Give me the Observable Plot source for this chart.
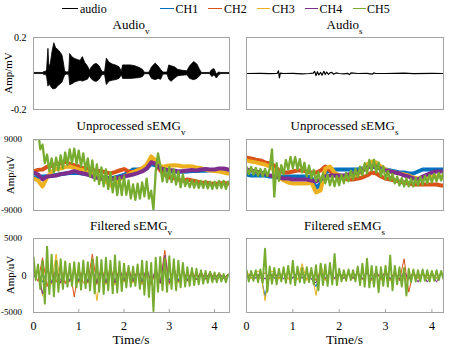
<!DOCTYPE html>
<html><head><meta charset="utf-8">
<script src="https://cdn.jsdelivr.net/npm/d3@7"></script>
<script src="https://cdn.jsdelivr.net/npm/@observablehq/plot@0.6"></script>
<style>
body{margin:0;background:#fff;}
#fig{position:relative;width:457px;height:347px;font-family:"Liberation Serif","Tinos","Times New Roman","DejaVu Serif",serif;color:#000;overflow:hidden;background:#fff;}
.abs{position:absolute;white-space:nowrap;}
.title{font-size:13px;line-height:13px;transform:translateX(-50%);}
.title sub{font-size:9px;vertical-align:-5px;line-height:0;}
.ylab{font-size:11px;line-height:11px;transform:translate(-50%,-50%) rotate(-90deg);}
.xlab{font-size:13.5px;line-height:10px;transform:translateX(-50%);}
.leg{font-size:12px;line-height:12px;}
.legline{position:absolute;height:0;border-top:1.2px solid;}
</style></head><body><div id="fig"></div>
<script>
// ---------- categories / colours ----------
const channels = ["CH1","CH2","CH3","CH4","CH5"];
const chColors = ["#0072BD","#D95319","#EDB120","#7E2F8E","#77AC30"];
const panelTitles = [["Audio","v"],["Audio","s"],["Unprocessed sEMG","v"],["Unprocessed sEMG","s"],["Filtered sEMG","v"],["Filtered sEMG","s"]];
const yLabels = ["Amp/mV","Amp/uV","Amp/uV"];
const xLabel = "Time/s";
const xTicks = [0,1,2,3,4];
const yTicksAudio = [0.2,-0.2];
const yTicksRaw = [9000,-9000];
const yTicksFilt = [5000,-5000];
const yTickZero = [0];

// ---------- audio (envelope breakpoints, mV) ----------
const audioT  = [0,0.22,0.24,0.27,0.30,0.33,0.35,0.38,0.42,0.46,0.50,0.55,0.60,0.64,0.67,0.70,0.75,0.79,0.81,0.86,0.92,0.98,1.04,1.09,1.14,1.20,1.25,1.28,1.35,1.40,1.46,1.52,1.58,1.62,1.68,1.75,1.82,1.90,1.95,1.98,2.05,2.15,2.25,2.35,2.42,2.46,2.56,2.62,2.70,2.76,2.82,2.87,2.96,3.00,3.05,3.12,3.20,3.30,3.40,3.46,3.55,3.62,3.68,3.72,3.90,3.95,4.00,4.05,4.10,4.15,4.33];
const audioHi = [0.003,0.003,0.01,0.005,0.02,0.137,0.04,0.05,0.12,0.168,0.14,0.13,0.115,0.10,0.06,0.01,0.005,0.01,0.108,0.09,0.08,0.075,0.07,0.091,0.06,0.04,0.015,0.03,0.05,0.053,0.04,0.01,0.005,0.082,0.06,0.05,0.045,0.035,0.01,0.045,0.045,0.045,0.04,0.03,0.02,0.004,0.004,0.035,0.055,0.04,0.02,0.005,0.005,0.045,0.04,0.035,0.02,0.015,0.012,0.04,0.064,0.05,0.02,0.003,0.003,0.02,0.024,-0.005,0.005,0.003,0.003];
const audioLo = [-0.003,-0.003,-0.01,-0.004,-0.02,-0.073,-0.06,-0.07,-0.085,-0.088,-0.085,-0.07,-0.06,-0.05,-0.03,-0.01,-0.005,-0.01,-0.065,-0.06,-0.05,-0.045,-0.04,-0.045,-0.04,-0.035,-0.015,-0.03,-0.045,-0.046,-0.035,-0.01,-0.006,-0.064,-0.045,-0.04,-0.037,-0.03,-0.01,-0.03,-0.03,-0.03,-0.028,-0.025,-0.02,-0.004,-0.004,-0.03,-0.037,-0.03,-0.035,-0.006,-0.006,-0.035,-0.046,-0.03,-0.015,-0.012,-0.01,-0.03,-0.037,-0.03,-0.015,-0.003,-0.003,-0.02,-0.01,-0.028,-0.01,-0.003,-0.003];
const audioST = [0,0.3,0.5,0.66,0.69,0.71,0.73,0.8,1.0,1.2,1.35,1.44,1.47,1.50,1.53,1.56,1.60,1.63,1.67,1.70,1.73,1.77,1.80,1.84,1.88,1.93,2.0,2.1,2.18,2.22,2.26,2.4,2.6,2.72,2.75,2.78,3.0,3.4,3.6,4.0,4.25];
const audioSV = [0,0.001,-0.001,0,0.015,-0.024,0.002,0,0.001,-0.002,0,0.002,0.012,-0.012,0.01,-0.008,0.006,-0.01,0.012,-0.006,0.008,-0.005,0.004,0.006,-0.004,0.003,0,-0.002,0.001,-0.006,0.004,0,0.001,-0.003,0.004,0,0,0.002,-0.001,0.001,0];

// ---------- unprocessed sEMG (uV); CH1-CH4 every 0.1 s, CH5 every 0.05 s ----------
const rawV1 = [-630,-500,-400,-300,-200,0,200,400,500,600,500,300,100,-200,-400,-600,-700,-800,-600,-300,0,600,1400,1400,1200,1600,2800,2400,1500,1200,1000,900,800,800,900,1000,1000,1100,1100,1200,1200,1300,1300,1200];
const rawV2 = [890,1300,1400,2100,2300,2800,2900,3400,2800,2500,2150,1700,1650,1300,1040,990,630,380,730,1140,1500,890,630,1240,1650,2250,3700,2900,1140,130,-630,-800,-1140,-1500,-1140,-1400,-1650,-2000,-1900,-2150,-2250,-2150,-2050,-2150];
const rawV3 = [-900,-1400,-2900,-630,890,1500,1650,2000,2150,1800,1400,1240,630,230,-380,-1000,-1650,-2650,-2400,-1140,-380,130,730,1140,1650,2650,4700,3700,2150,2250,2400,2500,2400,2150,2250,2150,1900,1750,1400,1140,990,890,630,380];
const rawV4 = [630,130,-1100,-380,-280,-130,230,380,630,990,630,380,130,-380,-730,-900,-800,-1140,-900,-630,-380,-130,130,480,890,1650,3200,2900,1650,1400,1240,1140,890,990,1140,1240,1140,1400,1500,1400,1400,1650,1650,1400];
const rawV5 = [12500,9000,11500,6500,7700,3000,5200,1000,4200,700,4400,1100,5000,1700,5700,2500,6500,3000,6700,2800,6200,2200,5500,1200,4200,-400,3700,-1400,2700,-2300,1900,-2900,1400,-3600,650,-4400,-350,-5100,-600,-5100,-350,-5000,-1400,-5900,-2400,-6300,-2200,-6000,-1900,-5400,-900,-6000,-4000,-8800,900,5500,2400,-1600,1700,-1800,2000,-1800,1400,-2400,900,-3100,150,-2800,-1250,-3100,-1300,-3200,-1400,-3300,-1500,-3300,-1500,-3400,-1700,-3500,-1700,-3400,-1500,-3300,-1500,-3500,-1700];
const rawS1 = [130,-130,-130,-130,-130,-380,-380,-380,-380,-380,-380,-380,-380,-380,-630,-3400,-2150,630,1140,1400,1400,1400,1400,1400,1400,1650,1900,2150,1900,1650,1400,1140,890,630,630,380,380,890,1400,1400,1400,1400,1400,1400];
const rawS2 = [4400,4200,3900,3700,3200,2900,2400,1140,630,630,890,1140,1140,890,630,630,1140,2150,1140,-130,-630,-900,-1140,-1140,-900,-630,-130,630,380,-380,-900,-1140,-1400,-1650,-1900,-2150,-2400,-2400,-2400,-2400,-2400,-2400,-2650,-2650];
const rawS3 = [3700,3400,3200,2900,2650,2150,1140,-380,-1400,-1900,-2150,-2150,-2150,-2150,-1900,-4400,-3900,1650,2150,630,-130,-380,-380,-130,130,1140,2650,3400,3200,2150,1400,890,630,380,130,-130,-630,-900,-900,-630,-380,-380,-380,-380];
const rawS4 = [1400,1140,890,630,380,-130,-380,-630,-900,-900,-1140,-1140,-1140,-1140,-1400,-1650,-1140,-380,-130,-130,-130,-130,130,380,630,1140,1900,2150,2150,1650,1140,890,630,380,-130,-380,-900,-1140,-380,130,630,890,890,890];
const rawS5 = [2040,240,2040,100,1790,-150,1530,-270,1530,-270,1530,6500,-5500,3000,-1500,2500,150,3800,1400,4600,1700,4600,1400,4000,650,3100,-360,2400,-870,1300,-1580,700,-1830,450,-2100,50,-2600,-300,-2850,-300,-2600,50,-2100,550,-1580,1100,-1070,1580,-570,2100,-60,3000,400,3800,1150,3900,650,3150,-360,2250,-1120,1000,-1380,250,-2140,-400,-2650,-800,-2900,-900,-2900,-900,-2900,-800,-2650,-500,-2400,-250,-2140,0,-1900,250,-1630,500,-1380,620,-1380];

// ---------- filtered sEMG (uV); CH1-CH4 every 0.1 s, CH5 every 0.05 s ----------
const filV1 = [-300,500,-900,700,-800,700,-600,600,-700,500,-600,600,-700,600,-700,600,-700,600,-600,500,-500,500,-500,500,-600,600,-700,600,-600,700,-600,600,-600,500,-500,400,-500,400,-400,300,-400,300,-300,100];
const filV2 = [600,-800,2400,-1500,1100,-900,900,-1100,800,-2900,900,-1000,-1000,2900,-1200,1100,-1100,1200,-1000,900,-800,1100,-900,800,-1200,1100,-1300,900,-1100,3400,-1200,1100,-900,800,-700,600,-500,500,-500,400,-500,300,-400,200];
const filV3 = [-200,800,-2800,1500,-1200,2900,-1100,1000,-900,1100,-1000,900,-1000,1000,-3400,1100,-1200,1200,-1300,1000,-900,800,-1000,900,-1100,1000,-1300,1100,-1000,2000,-1100,1000,-1000,900,-800,700,-600,500,-500,500,-400,400,-400,100];
const filV4 = [-300,600,-2500,1100,-1000,900,-1000,800,-800,700,-800,800,-900,800,-1000,900,-1000,900,-1000,800,-700,700,-800,700,-900,1000,-1100,900,-1000,2700,-1000,900,-800,700,-700,500,-600,500,-500,400,-500,300,-400,100];
const filV5 = [2500,-600,1500,-1800,2000,-3800,3900,-2500,2800,-2800,2000,-2200,2200,-1800,1900,-1500,1600,-1400,1800,-1600,1700,-1900,2000,-1700,1800,-2000,2200,-2400,2500,-2200,2100,-2500,2400,-2000,2000,-2400,2700,-2300,1900,-2100,1600,-1600,1300,-1500,1200,-1400,1500,-1800,2000,-2600,1900,-2900,1700,-4800,2400,-2200,2500,-2000,2300,-2200,2600,-1800,2200,-2000,2000,-1600,1700,-1500,1100,-1400,1000,-1300,900,-1200,700,-1100,600,-1000,500,-900,400,-900,300,-800,200,-900,100];
const filS1 = [-300,300,-300,300,-2800,400,-300,300,-400,300,-300,400,-300,300,-400,-1500,400,-300,300,-300,300,-300,300,-300,400,-400,300,-400,300,-300,400,-400,300,-400,400,-400,300,-300,300,-300,300,-300,300,-200];
const filS2 = [300,-400,400,-400,400,-500,500,-400,500,-500,600,-500,500,-500,500,-700,700,-600,500,-500,400,-400,400,-400,500,-500,600,-700,500,-600,700,-700,600,-700,2250,-2250,500,-400,400,-400,400,-400,300,-300];
const filS3 = [600,-400,500,600,-3400,600,500,-500,600,-500,700,-600,1600,-700,800,-2700,1600,-700,600,-500,500,-400,400,-500,500,-600,700,-700,600,-600,700,-700,500,-500,500,-500,500,-400,400,-400,400,-400,400,-400];
const filS4 = [-400,300,-400,400,-500,400,-400,400,-500,400,-400,500,-400,400,-500,-1000,500,-400,400,-400,400,-400,300,-400,400,-500,400,-500,500,-400,500,-500,400,-500,500,-500,400,-900,400,-900,300,-900,400,-800];
const filS5 = [700,-800,600,-700,700,-900,800,-1000,3600,-2200,1200,-1100,1000,-1200,900,-800,1100,-1000,1300,-1100,2000,-1300,1200,-900,1000,-1000,1100,-900,1000,-1200,1400,-2000,1600,-1300,1500,-1400,1700,-1200,2900,-1300,900,-800,700,-700,800,-600,700,-800,1200,-1300,1600,-1500,2250,-1600,1300,-1500,1200,-2250,1100,-1400,1300,-1500,2700,-2000,1300,-1200,1100,-1500,1000,-2700,900,-900,800,-800,700,-800,800,-700,700,-800,600,-700,700,-600,600,-500,500];

// ---------- helpers ----------
const sampled = (vals, dt) => vals.map((v, i) => ({t: Math.round(i * dt * 1000) / 1000, v}));
const fig = document.getElementById("fig");
const FONT = "'Liberation Serif','Tinos','Times New Roman','DejaVu Serif',serif";
const FRAME = "#a3a3a3";
const LX = 33, LW = 196, RX = 246, RW = 197;
const ROWS = [{y: 37, h: 72}, {y: 139, h: 71}, {y: 238, h: 74}];
const XMAX = [4.33, 4.25];

function panel(col, row, ydom, marks, {yaxes = [], xaxis = false} = {}) {
  const px = col === 0 ? LX : RX, pw = col === 0 ? LW : RW, r = ROWS[row];
  const ml = col === 0 ? LX : 3, mt = 3, mr = 3, mb = xaxis ? 34 : 3;
  const extra = [];
  yaxes.forEach(a => extra.push(Plot.axisY({ticks: a.ticks, tickSize: 0, tickPadding: a.pad, tickFormat: d => String(d), label: null, fontSize: a.size, fontFamily: FONT})));
  if (xaxis) {
    extra.push(Plot.axisX({ticks: xTicks, tickSize: 0, tickPadding: 9, tickFormat: d => String(d), label: null, fontSize: 12, fontFamily: FONT}));
    extra.push(Plot.tickX(xTicks, {x: d => d, stroke: FRAME, insetTop: r.h - 3}));
  }
  const svg = Plot.plot({
    width: pw + ml + mr, height: r.h + mt + mb,
    marginLeft: ml, marginRight: mr, marginTop: mt, marginBottom: mb,
    x: {domain: [0, XMAX[col]], ...(xaxis ? {} : {axis: null})},
    y: {domain: ydom, ...(yaxes.length ? {} : {axis: null})},
    style: {fontFamily: FONT, fontSize: "10px", background: "transparent", color: "#000", overflow: "visible"},
    marks: [...marks, Plot.frame({stroke: FRAME}), ...extra]
  });
  svg.style.position = "absolute";
  svg.style.left = (px - ml) + "px";
  svg.style.top = (r.y - mt) + "px";
  fig.appendChild(svg);
}

function chLines(arrays, dts, widths) {
  return arrays.map((a, i) => Plot.line(sampled(a, dts[i]), {x: "t", y: "v", stroke: chColors[i], strokeWidth: widths[i], clip: true}));
}

// ---------- row 1: audio ----------
const audioRows = audioT.map((t, i) => ({t, hi: audioHi[i], lo: audioLo[i]}));
panel(0, 0, [-0.2, 0.2], [
  Plot.areaY(audioRows, {x: "t", y1: "lo", y2: "hi", fill: "#000", stroke: "#000", strokeWidth: 0.8, clip: true})
], {yaxes: [{ticks: yTicksAudio, pad: 7, size: 10}]});
const audioSRows = audioST.map((t, i) => ({t, v: audioSV[i]}));
panel(1, 0, [-0.2, 0.2], [
  Plot.line(audioSRows, {x: "t", y: "v", stroke: "#000", strokeWidth: 1.2, clip: true})
]);

// ---------- row 2: unprocessed ----------
const wRaw = [4, 4, 4, 4, 2.3];
const dRaw = [0.1, 0.1, 0.1, 0.1, 0.05];
panel(0, 1, [-9000, 9000], chLines([rawV1, rawV2, rawV3, rawV4, rawV5], dRaw, wRaw), {yaxes: [{ticks: yTicksRaw, pad: 11.5, size: 9}]});
panel(1, 1, [-9000, 9000], chLines([rawS1, rawS2, rawS3, rawS4, rawS5], dRaw, wRaw));

// ---------- row 3: filtered ----------
const wFil = [1, 1, 1, 1, 2];
const dFil = [0.1, 0.1, 0.1, 0.1, 0.05];
panel(0, 2, [-5000, 5000], chLines([filV1, filV2, filV3, filV4, filV5], dFil, wFil), {yaxes: [{ticks: yTicksFilt, pad: 11.5, size: 9}, {ticks: yTickZero, pad: 7, size: 10}], xaxis: true});
panel(1, 2, [-5000, 5000], chLines([filS1, filS2, filS3, filS4, filS5], dFil, wFil), {xaxis: true});

// ---------- text: titles, labels ----------
function addDiv(cls, html, left, top) {
  const d = document.createElement("div");
  d.className = "abs " + cls; d.innerHTML = html;
  d.style.left = left + "px"; d.style.top = top + "px";
  fig.appendChild(d); return d;
}
const titleTops = [18, 119, 218.5];
panelTitles.forEach(([main, sub], i) => {
  const col = i % 2, row = Math.floor(i / 2);
  const cx = col === 0 ? LX + LW / 2 : RX + RW / 2;
  addDiv("title", main + "<sub>" + sub + "</sub>", cx, titleTops[row]);
});
const ylabCenters = [[8, 73], [9.5, 175], [9.5, 275]];
yLabels.forEach((l, i) => addDiv("ylab", l, ylabCenters[i][0], ylabCenters[i][1]));
addDiv("xlab", xLabel, LX + LW / 2, 335);
addDiv("xlab", xLabel, RX + RW / 2, 335);

// ---------- legend ----------
const legendItems = [{name: "audio", color: "#000", x1: 62, x2: 78, tx: 80}]
  .concat(channels.map((c, i) => ({name: c, color: chColors[i], x1: [160, 208, 256.5, 305, 352.5][i], x2: [173.5, 221.5, 270, 318, 366][i], tx: [175.5, 224, 272, 319.5, 367][i]})));
legendItems.forEach(it => {
  const l = document.createElement("div");
  l.className = "legline";
  l.style.left = it.x1 + "px"; l.style.width = (it.x2 - it.x1) + "px"; l.style.top = "7.7px";
  l.style.borderTopColor = it.color;
  fig.appendChild(l);
  addDiv("leg", it.name, it.tx, 2.5);
});
</script></body></html>
